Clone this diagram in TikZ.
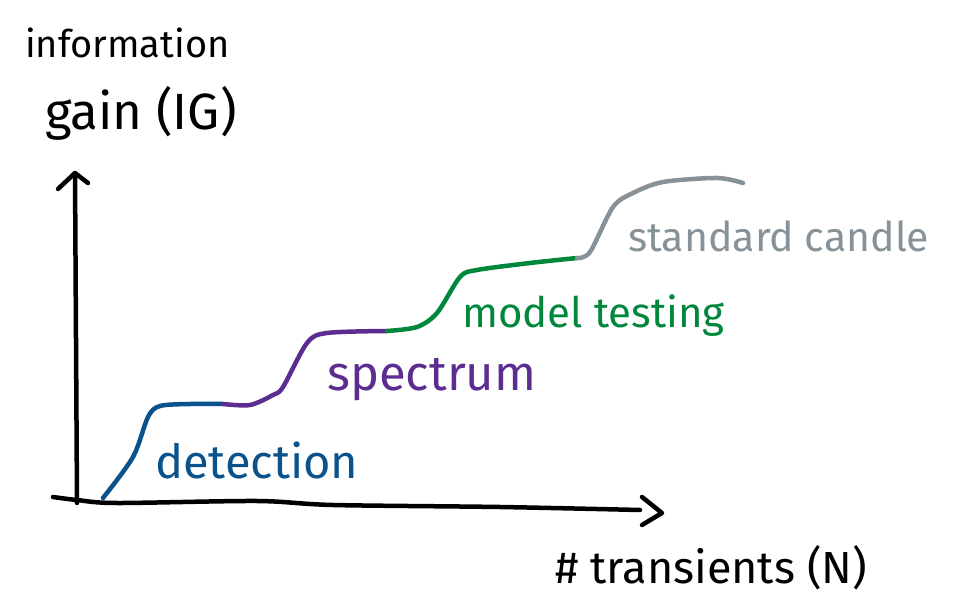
\documentclass[tikz,border=0pt]{standalone}
\usepackage{fontspec}
\setmainfont{Fira Sans}
\definecolor{cblue}{RGB}{10,82,140}
\definecolor{cpurple}{RGB}{92,45,145}
\definecolor{cgreen}{RGB}{0,135,60}
\definecolor{cgray}{RGB}{135,146,152}
\tikzset{
  stroke/.style={line width=4.5pt, line cap=round, line join=round},
  axis/.style={stroke, black},
  lab/.style={inner sep=0pt, anchor=base west},
  fs/.style={font=\fontsize{#1}{#1}\selectfont},
}
\begin{document}
\begin{tikzpicture}[x=1pt,y=-1pt]
\useasboundingbox (0,0) rectangle (959,596);
% axes
\coordinate (o) at (77,503);
\coordinate (ytip) at (75,173);
\coordinate (xstart) at (53,497);
\coordinate (xtip) at (662,513);
\draw[axis] (o) -- (ytip);
\draw[axis] (58,189) -- (ytip) -- (88,183);
\draw[axis] (xstart) plot[smooth, tension=0.5] coordinates {(53,497) (77,500) (117,503) (257,501) (333,505) (500,507) (640,510)};
\draw[axis] (642,497) -- (xtip) -- (642,525);
% curve
\coordinate (c0) at (103,498);
\coordinate (c1) at (223,404);
\coordinate (c2) at (387,331);
\coordinate (c3) at (577,258);
\coordinate (c4) at (743,183);
\draw[stroke, cblue] plot[smooth, tension=0.5] coordinates {(103,498) (133,457) (148,417) (160,406) (190,404) (223,404)};
\draw[stroke, cpurple] plot[smooth, tension=0.5] coordinates {(223,404) (250,405) (273,395) (283,387) (307,343) (327,333) (387,331)};
\draw[stroke, cgreen] plot[smooth, tension=0.5] coordinates {(387,331) (417,327) (437,313) (460,277) (477,270) (530,263) (577,258)};
\draw[stroke, cgray] plot[smooth, tension=0.5] coordinates {(577,258) (590,252) (613,207) (633,193) (663,182) (717,178) (743,183)};
% labels
\node[lab, fs=38] (t1) at (25,58) {information};
\node[lab, fs=51] (t2) at (45,130) {gain (IG)};
\node[lab, fs=47, text=cblue] (det) at (155,478) {detection};
\node[lab, fs=49, text=cpurple] (spec) at (327,390) {spectrum};
\node[lab, fs=42, text=cgreen] (mod) at (462,327) {model testing};
\node[lab, fs=41, text=cgray] (std) at (628,252) {standard candle};
\node[lab, fs=45] (xl) at (555,583) {\# transients (N)};
\end{tikzpicture}
\end{document}
